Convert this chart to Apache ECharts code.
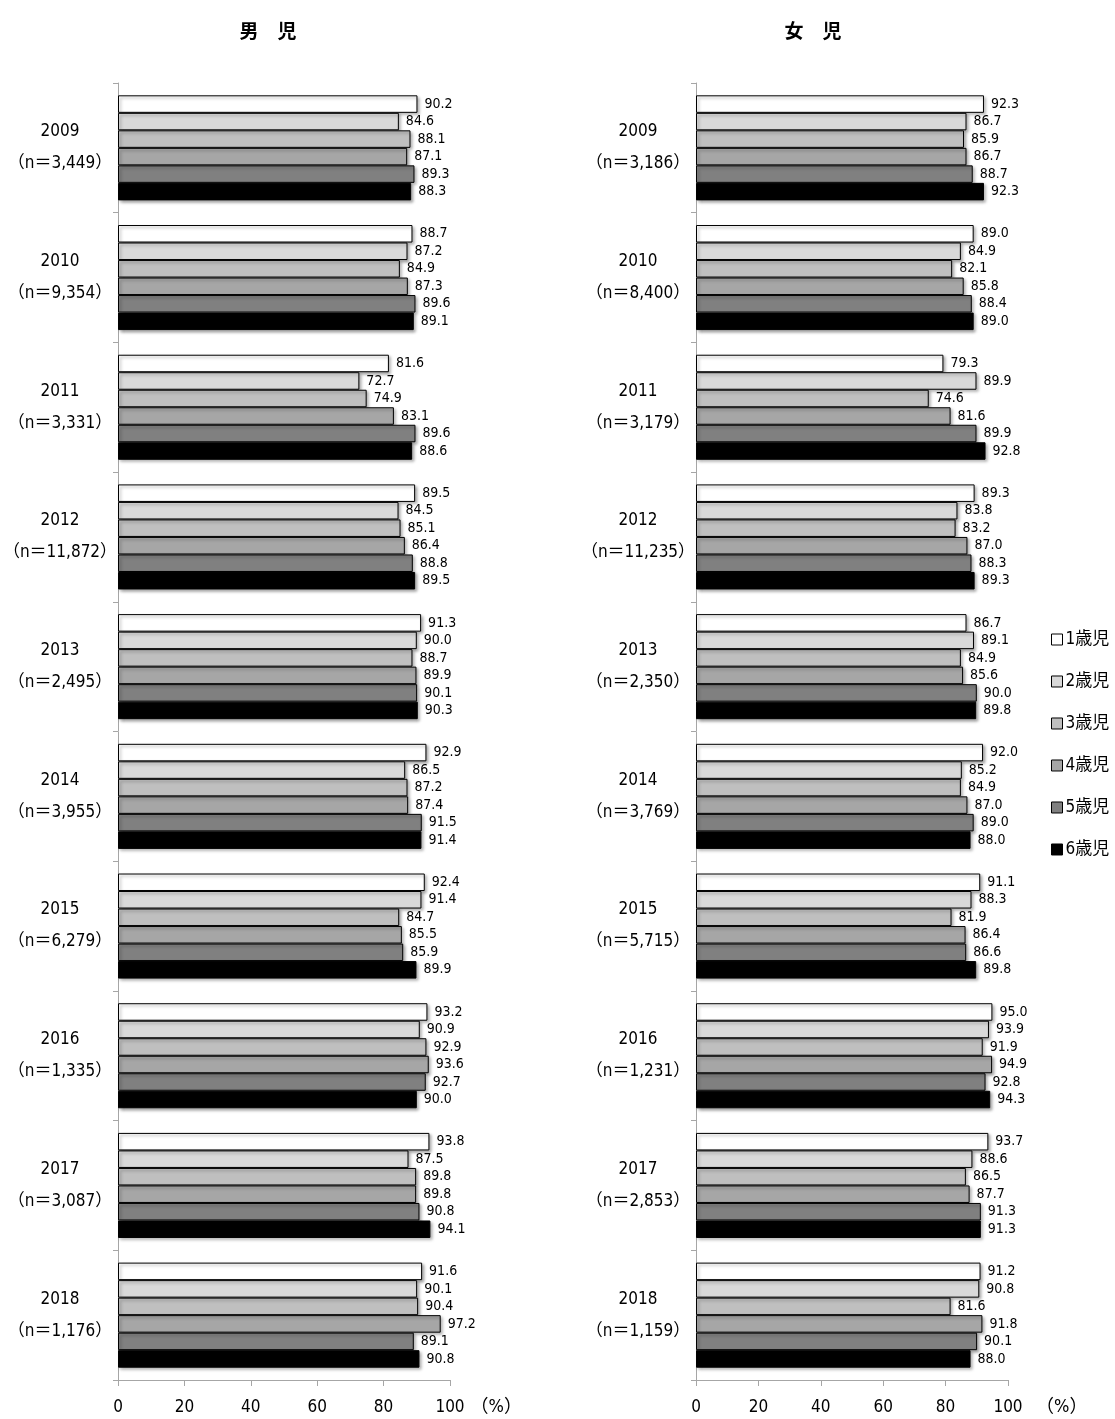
<!DOCTYPE html>
<html>
<head>
<meta charset="utf-8">
<script src="https://cdn.jsdelivr.net/npm/echarts@6/dist/echarts.min.js"></script>
<style>
html,body{margin:0;padding:0;background:#fff;}
#chart{width:1115px;height:1419px;}
</style>
</head>
<body>
<div id="chart"></div>
<script>
const years = ['2009','2010','2011','2012','2013','2014','2015','2016','2017','2018'];
const boysN = ['3,449','9,354','3,331','11,872','2,495','3,955','6,279','1,335','3,087','1,176'];
const girlsN = ['3,186','8,400','3,179','11,235','2,350','3,769','5,715','1,231','2,853','1,159'];
const ageNames = ['1歳児','2歳児','3歳児','4歳児','5歳児','6歳児'];
const xTicks = [0, 20, 40, 60, 80, 100];

// 男児: per age, values for 2009..2018
const boys1 = [90.2, 88.7, 81.6, 89.5, 91.3, 92.9, 92.4, 93.2, 93.8, 91.6];
const boys2 = [84.6, 87.2, 72.7, 84.5, 90.0, 86.5, 91.4, 90.9, 87.5, 90.1];
const boys3 = [88.1, 84.9, 74.9, 85.1, 88.7, 87.2, 84.7, 92.9, 89.8, 90.4];
const boys4 = [87.1, 87.3, 83.1, 86.4, 89.9, 87.4, 85.5, 93.6, 89.8, 97.2];
const boys5 = [89.3, 89.6, 89.6, 88.8, 90.1, 91.5, 85.9, 92.7, 90.8, 89.1];
const boys6 = [88.3, 89.1, 88.6, 89.5, 90.3, 91.4, 89.9, 90.0, 94.1, 90.8];

// 女児
const girls1 = [92.3, 89.0, 79.3, 89.3, 86.7, 92.0, 91.1, 95.0, 93.7, 91.2];
const girls2 = [86.7, 84.9, 89.9, 83.8, 89.1, 85.2, 88.3, 93.9, 88.6, 90.8];
const girls3 = [85.9, 82.1, 74.6, 83.2, 84.9, 84.9, 81.9, 91.9, 86.5, 81.6];
const girls4 = [86.7, 85.8, 81.6, 87.0, 85.6, 87.0, 86.4, 94.9, 87.7, 91.8];
const girls5 = [88.7, 88.4, 89.9, 88.3, 90.0, 89.0, 86.6, 92.8, 91.3, 90.1];
const girls6 = [92.3, 89.0, 92.8, 89.3, 89.8, 88.0, 89.8, 94.3, 91.3, 88.0];

const boysData = [boys1, boys2, boys3, boys4, boys5, boys6];
const girlsData = [girls1, girls2, girls3, girls4, girls5, girls6];
const colors = ['#ffffff', '#d9d9d9', '#bfbfbf', '#a6a6a6', '#808080', '#000000'];

const FONT = "'Liberation Sans Narrow', 'DejaVu Sans Condensed', 'Noto Sans CJK JP', sans-serif";

function makeYAxis(idx, ns) {
  return {
    type: 'category', gridIndex: idx, data: years, inverse: true,
    axisLine: { show: true, lineStyle: { color: '#a6a6a6', width: 1 } },
    axisTick: { show: true, length: 5, lineStyle: { color: '#a6a6a6' } },
    axisLabel: {
      margin: 58, align: 'center', fontSize: 17, lineHeight: 32, color: '#000',
      fontFamily: FONT, padding: [0, 0, 8, 0],
      formatter: (v, i) => v + '\n（n＝' + ns[i] + '）'
    }
  };
}
function makeXAxis(idx, gap) {
  return {
    type: 'value', gridIndex: idx, min: xTicks[0], max: xTicks[xTicks.length - 1], interval: 20,
    splitLine: { show: false },
    axisLine: { show: true, lineStyle: { color: '#a6a6a6', width: 1 } },
    axisTick: { show: true, length: 6, lineStyle: { color: '#a6a6a6' } },
    axisLabel: { margin: 19, fontSize: 17, color: '#000', fontFamily: FONT },
    name: '（%）', nameLocation: 'end', nameGap: gap,
    nameTextStyle: { fontSize: 18, color: '#000', fontFamily: FONT, verticalAlign: 'top', padding: [18, 0, 0, 0] }
  };
}

const series = [];
[boysData, girlsData].forEach((set, gi) => {
  set.forEach((vals, k) => {
    series.push({
      type: 'bar', name: ageNames[k], xAxisIndex: gi, yAxisIndex: gi,
      data: vals, barGap: '0%', barCategoryGap: '19%',
      itemStyle: {
        color: colors[k], borderColor: '#000', borderWidth: 1,
        shadowBlur: 3, shadowOffsetX: 2, shadowOffsetY: 2, shadowColor: 'rgba(0,0,0,0.35)'
      },
      label: {
        show: true, position: 'right', distance: 7, fontSize: 14, color: '#000',
        fontFamily: FONT, formatter: p => p.value.toFixed(1)
      },
      emphasis: { disabled: true }
    });
  });
});

const chart = echarts.init(document.getElementById('chart'), null, { renderer: 'canvas' });
chart.setOption({
  animation: false,
  backgroundColor: '#fff',
  title: [
    { text: '男\u3000児', left: 263, top: 16, textAlign: 'center', textStyle: { fontSize: 19, fontWeight: 'bold', color: '#000', fontFamily: "'Noto Sans CJK JP', sans-serif" } },
    { text: '女\u3000児', left: 808, top: 16, textAlign: 'center', textStyle: { fontSize: 19, fontWeight: 'bold', color: '#000', fontFamily: "'Noto Sans CJK JP', sans-serif" } }
  ],
  legend: {
    orient: 'vertical', left: 1051, top: 631, itemGap: 25, itemWidth: 11, itemHeight: 11,
    icon: 'rect', padding: 0,
    textStyle: { fontSize: 17, color: '#000', fontFamily: FONT, padding: [0, 0, 0, -2] },
    itemStyle: { borderColor: '#000', borderWidth: 1, shadowBlur: 0, shadowOffsetX: 0, shadowOffsetY: 0, shadowColor: 'rgba(0,0,0,0)' },
    data: ageNames
  },
  grid: [
    { left: 118, width: 332, top: 83, height: 1297, outerBoundsMode: 'none', containLabel: false },
    { left: 696, width: 312, top: 83, height: 1297, outerBoundsMode: 'none', containLabel: false }
  ],
  xAxis: [makeXAxis(0, 18), makeXAxis(1, 28)],
  yAxis: [makeYAxis(0, boysN), makeYAxis(1, girlsN)],
  series: series
});
</script>
</body>
</html>
